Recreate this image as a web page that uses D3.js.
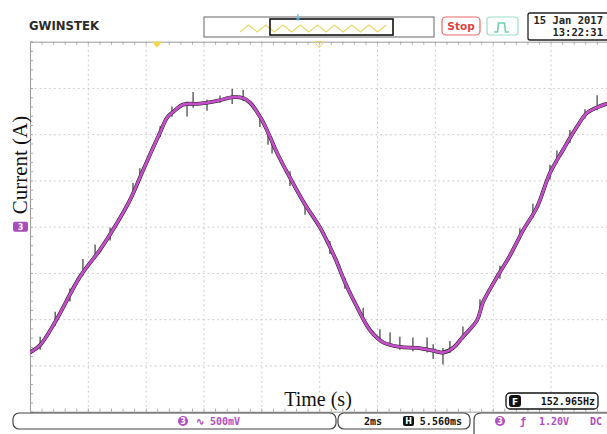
<!DOCTYPE html>
<html lang="en">
<head>
<meta charset="UTF-8"/>
<title>Scope capture - current waveform</title>
<script src="https://cdn.jsdelivr.net/npm/d3@7"></script>
<style>
  body { margin:0; background:#fff; }
  svg { display:block; }
  .mono { font-family:"DejaVu Sans Mono", monospace; font-weight:bold; }
</style>
</head>
<body>
<div id="scope"></div>
<script>
var W = 607, H = 434;

// waveform: time in ms (2 ms/div), probe value in V (500 mV/div)
var timeMs = [0, 0.35, 0.87, 1.73, 2.42, 3.01, 3.46, 3.91, 4.25, 4.50, 4.74, 4.95, 5.29, 5.88,
  6.47, 7.02, 7.37, 7.61, 7.85, 8.06, 8.30, 8.54, 8.99, 9.51, 10.03, 10.55, 10.89, 11.31,
  11.76, 12.21, 12.79, 13.38, 13.94, 14.28, 14.63, 14.97, 15.46, 15.66, 16.08, 16.60,
  17.05, 17.53, 17.98, 18.43, 18.91, 19.26, 19.61, 19.95];
var currentV = [-1.36, -1.28, -1.03, -0.54, -0.25, 0.04, 0.29, 0.61, 0.85, 1.02, 1.18, 1.24, 1.32, 1.33,
  1.36, 1.40, 1.39, 1.34, 1.24, 1.13, 0.97, 0.80, 0.53, 0.24, -0.01, -0.34, -0.60, -0.87,
  -1.12, -1.25, -1.30, -1.31, -1.34, -1.36, -1.31, -1.19, -1.01, -0.82, -0.58, -0.31,
  -0.04, 0.21, 0.58, 0.83, 1.08, 1.23, 1.29, 1.33];

// visible noise spikes on the raw trace: time, excursion above and below the trace (V)
var spikeT    = [0.35, 0.87, 1.38, 1.83, 2.25, 2.77, 3.56, 3.80, 4.50, 4.91, 5.43, 5.64, 6.12, 6.57,
  6.99, 7.37, 7.95, 8.23, 8.37, 8.99, 9.51, 10.37, 10.89, 11.52, 12.10, 12.45, 12.79, 13.24,
  13.73, 13.94, 14.28, 14.52, 14.97, 15.56, 16.25, 16.94, 17.39, 17.98, 18.22, 18.67, 19.19, 19.61];
var spikeUp   = [0.09, 0.11, 0.07, 0.15, 0.13, 0.07, 0.11, 0.10, 0.07, 0.07, 0.03, 0.13, 0.03, 0.05,
  0.09, 0.09, 0.03, 0.03, 0.02, 0.07, 0.03, 0.07, 0.05, 0.11, 0.11, 0.13, 0.11, 0.11,
  0.13, 0.07, 0.05, 0.09, 0.11, 0.13, 0.07, 0.09, 0.11, 0.09, 0.11, 0.09, 0.07, 0.13];
var spikeDown = [0.05, 0.04, 0.07, 0.03, 0.02, 0.07, 0.04, 0.03, 0.05, 0.04, 0.13, 0.04, 0.09, 0.03,
  0.07, 0.03, 0.11, 0.13, 0.13, 0.09, 0.11, 0.07, 0.07, 0.04, 0.03, 0.02, 0.03, 0.04,
  0.03, 0.09, 0.13, 0.04, 0.03, 0.04, 0.07, 0.03, 0.04, 0.07, 0.03, 0.05, 0.03, 0.03];

var gridTimes = [2, 4, 6, 8, 10, 12, 14, 16, 18];
var gridVolts = [-1.5, -1, -0.5, 0, 0.5, 1, 1.5];
var triggerT = 4.39, centerT = 10;

var x = d3.scaleLinear().domain([0, 20]).range([30, 608.4]);
var y = d3.scaleLinear().domain([-2, 2]).range([411.7, 41.7]);
var plotH = y(-2) - y(2);
var plotW = x(20) - x(0);

var svg = d3.select('#scope').append('svg')
    .attr('width', W).attr('height', H);

// ---- grid ----
var grid = svg.append('g');
grid.append('g')
    .attr('transform', 'translate(0,' + y(-2) + ')')
    .call(d3.axisBottom(x).tickValues(gridTimes).tickSize(-plotH).tickFormat(''));
grid.append('g')
    .attr('transform', 'translate(' + x(0) + ',0)')
    .call(d3.axisLeft(y).tickValues(gridVolts).tickSize(-plotW).tickFormat(''));
grid.selectAll('.domain').remove();
grid.selectAll('.tick line')
    .attr('stroke', '#c4c4c4')
    .attr('stroke-width', 1)
    .attr('stroke-dasharray', '1.6,3.2');

// border ticks (0.2 div)
var minorT = d3.range(0, 20.001, 0.4);
var minorV = d3.range(-2, 2.001, 0.1);
var frame = svg.append('g').attr('fill', 'none');
frame.append('g')
    .attr('transform', 'translate(0,' + y(2) + ')')
    .call(d3.axisTop(x).tickValues(minorT).tickSize(-3).tickFormat(''));
frame.append('g')
    .attr('transform', 'translate(0,' + y(-2) + ')')
    .call(d3.axisBottom(x).tickValues(minorT).tickSize(-3).tickFormat(''));
frame.append('g')
    .attr('transform', 'translate(' + x(0) + ',0)')
    .call(d3.axisLeft(y).tickValues(minorV).tickSize(-3).tickFormat(''));
frame.selectAll('.domain').attr('stroke', '#9a9a9a').attr('stroke-width', 1);
frame.selectAll('.tick line').attr('stroke', '#a8a8a8');

// ---- traces ----
svg.append('clipPath').attr('id', 'plotclip')
  .append('rect').attr('x', x(0)).attr('y', y(2)).attr('width', W - x(0)).attr('height', plotH);

var traces = svg.append('g').attr('clip-path', 'url(#plotclip)');
var pts = timeMs.map(function(t, i) { return [t, currentV[i]]; });
var base = d3.scaleLinear().domain(timeMs).range(currentV);
var smooth = d3.line().curve(d3.curveCatmullRom)
    .x(function(d){ return x(d[0]); }).y(function(d){ return y(d[1]); });

traces.append('path')
    .datum(pts)
    .attr('fill', 'none')
    .attr('stroke', '#1c1c1c')
    .attr('stroke-width', 3.8)
    .attr('d', smooth);

traces.selectAll('line.spike')
    .data(spikeT)
  .enter().append('line')
    .attr('class', 'spike')
    .attr('x1', function(t){ return x(t); })
    .attr('x2', function(t){ return x(t); })
    .attr('y1', function(t, i){ return y(base(t) + spikeUp[i]); })
    .attr('y2', function(t, i){ return y(base(t) - spikeDown[i]); })
    .attr('stroke', '#2a2a2a')
    .attr('stroke-width', 1.1);

traces.append('path')
    .datum(pts)
    .attr('fill', 'none')
    .attr('stroke', '#c44fc8')
    .attr('stroke-width', 2.8)
    .attr('stroke-linejoin', 'round')
    .attr('d', smooth);

// ---- markers ----
svg.append('path')
    .attr('d', 'M' + (x(triggerT) - 5) + ',' + y(2) + 'h10l-5,6z')
    .attr('fill', '#f3d54c');
svg.append('path')
    .attr('d', 'M' + (x(centerT) - 5) + ',' + y(2) + 'h10l-5,6z')
    .attr('fill', 'none').attr('stroke', '#e9d466').attr('stroke-width', 1);

svg.append('rect')
    .attr('x', 13).attr('y', y(0) - 5).attr('width', 15).attr('height', 10).attr('rx', 2)
    .attr('fill', '#a94bbb');
svg.append('text')
    .attr('x', 20.5).attr('y', y(0) + 3.2)
    .attr('text-anchor', 'middle')
    .attr('font-family', 'DejaVu Sans').attr('font-size', 8).attr('font-weight', 'bold')
    .attr('fill', '#fff').text('3');

// ---- header ----
svg.append('text')
    .attr('x', 29).attr('y', 30)
    .attr('font-family', 'DejaVu Sans').attr('font-weight', 'bold').attr('font-size', 12)
    .attr('textLength', 70).attr('lengthAdjust', 'spacingAndGlyphs')
    .attr('fill', '#2b2b2b').text('GWINSTEK');

svg.append('rect').attr('x', 204).attr('y', 17).attr('width', 230).attr('height', 20)
    .attr('fill', '#fff').attr('stroke', '#555').attr('stroke-width', 0.9);
var zz = d3.range(240, 391, 8.6).map(function(px, i){ return [px, i % 2 ? 25 : 32]; });
svg.append('path').datum(zz)
    .attr('fill', 'none').attr('stroke', '#e8d66a').attr('stroke-width', 1.1)
    .attr('d', d3.line());
svg.append('rect').attr('x', 270).attr('y', 19).attr('width', 123).attr('height', 16)
    .attr('fill', 'none').attr('stroke', '#111').attr('stroke-width', 1.6);
svg.append('line').attr('x1', 298).attr('x2', 298).attr('y1', 14).attr('y2', 20)
    .attr('stroke', '#7cc8e8').attr('stroke-width', 1.5);
svg.append('circle').attr('cx', 298).attr('cy', 19).attr('r', 1.6).attr('fill', '#4aa8d8');

svg.append('rect').attr('x', 442).attr('y', 17).attr('width', 38).attr('height', 18).attr('rx', 4)
    .attr('fill', '#fff').attr('stroke', '#e26a6a').attr('stroke-width', 1.2);
svg.append('text').attr('x', 461).attr('y', 30).attr('text-anchor', 'middle')
    .attr('font-family', 'DejaVu Sans').attr('font-weight', 'bold').attr('font-size', 10.5)
    .attr('fill', '#d94444').text('Stop');

svg.append('rect').attr('x', 487).attr('y', 17).attr('width', 31).attr('height', 18).attr('rx', 3)
    .attr('fill', '#fff').attr('stroke', '#9edcc8').attr('stroke-width', 1.2);
svg.append('path').attr('d', 'M494,32H497.5L498.5,23H504.5L505.5,32H509')
    .attr('fill', 'none').attr('stroke', '#72cfb0').attr('stroke-width', 1.6);

svg.append('rect').attr('x', 528).attr('y', 13).attr('width', 84).attr('height', 27).attr('rx', 2)
    .attr('fill', '#fff').attr('stroke', '#222').attr('stroke-width', 1.3);
svg.append('text').attr('class', 'mono').attr('x', 603).attr('y', 23.5).attr('text-anchor', 'end')
    .attr('font-size', 10.5).attr('fill', '#222').text('15 Jan 2017');
svg.append('text').attr('class', 'mono').attr('x', 603).attr('y', 35.5).attr('text-anchor', 'end')
    .attr('font-size', 10.5).attr('fill', '#222').text('13:22:31');

// ---- axis labels ----
svg.append('text')
    .attr('transform', 'translate(27,165) rotate(-90)')
    .attr('text-anchor', 'middle')
    .attr('font-family', '"Liberation Serif", serif').attr('font-size', 21)
    .attr('fill', '#111').text('Current (A)');
svg.append('text')
    .attr('x', 318).attr('y', 406)
    .attr('text-anchor', 'middle')
    .attr('font-family', '"Liberation Serif", serif').attr('font-size', 20)
    .attr('fill', '#111').text('Time (s)');

// ---- footer ----
var purple = '#b24cc2';
svg.append('rect').attr('x', 506).attr('y', 393).attr('width', 92).attr('height', 16).attr('rx', 4)
    .attr('fill', '#fff').attr('stroke', '#111').attr('stroke-width', 1.3);
svg.append('rect').attr('x', 509).attr('y', 395).attr('width', 12).attr('height', 12).attr('rx', 3)
    .attr('fill', '#111');
svg.append('text').attr('x', 515).attr('y', 404.5).attr('text-anchor', 'middle')
    .attr('font-family', 'DejaVu Sans').attr('font-weight', 'bold').attr('font-size', 9)
    .attr('fill', '#fff').text('F');
svg.append('text').attr('class', 'mono').attr('x', 595).attr('y', 405).attr('text-anchor', 'end')
    .attr('font-size', 10).attr('fill', '#111').text('152.965Hz');

svg.append('rect').attr('x', 13).attr('y', 413).attr('width', 323).attr('height', 16).attr('rx', 6)
    .attr('fill', '#fff').attr('stroke', '#444').attr('stroke-width', 1.2);
svg.append('rect').attr('x', 338).attr('y', 413).attr('width', 132).attr('height', 16).attr('rx', 6)
    .attr('fill', '#fff').attr('stroke', '#444').attr('stroke-width', 1.2);
svg.append('path').attr('d', 'M612,413H481Q474,413 474,420V434')
    .attr('fill', 'none').attr('stroke', '#444').attr('stroke-width', 1.2);

function chanBadge(cx) {
  svg.append('circle').attr('cx', cx).attr('cy', 421).attr('r', 5).attr('fill', purple);
  svg.append('text').attr('x', cx).attr('y', 424.2).attr('text-anchor', 'middle')
      .attr('font-family', 'DejaVu Sans').attr('font-weight', 'bold').attr('font-size', 8)
      .attr('fill', '#fff').text('3');
}
chanBadge(183);
svg.append('text').attr('class', 'mono').attr('x', 196).attr('y', 425)
    .attr('font-size', 10).attr('fill', purple).text('\u223F 500mV');

svg.append('text').attr('class', 'mono').attr('x', 364).attr('y', 425)
    .attr('font-size', 10).attr('fill', '#111').text('2ms');
svg.append('rect').attr('x', 403).attr('y', 416).attr('width', 11).attr('height', 10).attr('rx', 2)
    .attr('fill', '#111');
svg.append('text').attr('x', 408.5).attr('y', 424.3).attr('text-anchor', 'middle')
    .attr('font-family', 'DejaVu Sans').attr('font-weight', 'bold').attr('font-size', 8)
    .attr('fill', '#fff').text('H');
svg.append('text').attr('class', 'mono').attr('x', 462).attr('y', 425).attr('text-anchor', 'end')
    .attr('font-size', 10).attr('fill', '#111').text('5.560ms');

chanBadge(500);
svg.append('text').attr('class', 'mono').attr('x', 520).attr('y', 425)
    .attr('font-size', 10).attr('fill', purple).text('\u0192');
svg.append('text').attr('class', 'mono').attr('x', 539).attr('y', 425)
    .attr('font-size', 10).attr('fill', purple).text('1.20V');
svg.append('text').attr('class', 'mono').attr('x', 590).attr('y', 425)
    .attr('font-size', 10).attr('fill', purple).text('DC');
</script>
</body>
</html>
